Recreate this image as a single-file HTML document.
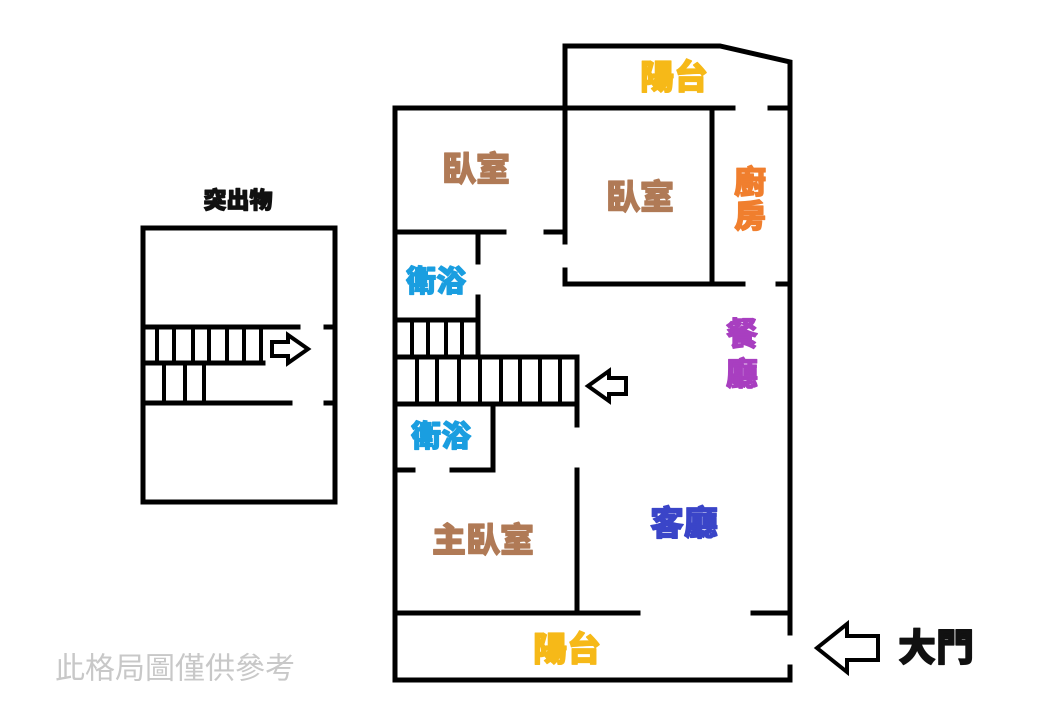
<!DOCTYPE html>
<html><head><meta charset="utf-8"><style>
body{margin:0;background:#fff;width:1056px;height:727px;overflow:hidden}
svg{display:block}
text{font-family:"Liberation Sans","Noto Sans CJK TC",sans-serif;font-weight:900;text-anchor:middle;dominant-baseline:central}
</style></head><body>
<svg width="1056" height="727" viewBox="0 0 1056 727" xmlns="http://www.w3.org/2000/svg">
<g stroke="#000" stroke-width="5" fill="none" stroke-linecap="square">
<rect x="143" y="228" width="192" height="274"/>
<line x1="143" y1="327" x2="298" y2="327"/>
<line x1="143" y1="363" x2="263" y2="363"/>
<line x1="143" y1="403" x2="290" y2="403"/>
<line x1="326" y1="327" x2="335" y2="327"/>
<line x1="326" y1="403" x2="335" y2="403"/>
<g stroke-width="4">
<line x1="157" y1="327" x2="157" y2="363"/><line x1="174" y1="327" x2="174" y2="363"/><line x1="193" y1="327" x2="193" y2="363"/><line x1="209" y1="327" x2="209" y2="363"/><line x1="227" y1="327" x2="227" y2="363"/><line x1="244" y1="327" x2="244" y2="363"/><line x1="261" y1="327" x2="261" y2="363"/>
<line x1="164" y1="363" x2="164" y2="403"/><line x1="185" y1="363" x2="185" y2="403"/><line x1="204" y1="363" x2="204" y2="403"/>
</g>
<polyline points="565,108 565,46 720,46 790,62 790,633"/>
<line x1="790" y1="667" x2="790" y2="680"/>
<polyline points="395,680 395,108 733,108"/>
<line x1="770" y1="108" x2="790" y2="108"/>
<line x1="395" y1="680" x2="790" y2="680"/>
<line x1="565" y1="108" x2="565" y2="242"/>
<polyline points="565,270 565,284 743,284"/>
<line x1="778" y1="284" x2="790" y2="284"/>
<line x1="712" y1="108" x2="712" y2="284"/>
<line x1="395" y1="232" x2="504" y2="232"/>
<line x1="546" y1="232" x2="565" y2="232"/>
<line x1="478" y1="232" x2="478" y2="262"/>
<line x1="478" y1="297" x2="478" y2="357"/>
<line x1="395" y1="320" x2="478" y2="320"/>
<line x1="395" y1="357" x2="577" y2="357"/>
<line x1="395" y1="404" x2="577" y2="404"/>
<line x1="577" y1="357" x2="577" y2="425"/>
<line x1="577" y1="470" x2="577" y2="613"/>
<line x1="493" y1="404" x2="493" y2="470"/>
<line x1="395" y1="470" x2="413" y2="470"/>
<line x1="452" y1="470" x2="493" y2="470"/>
<line x1="395" y1="613" x2="638" y2="613"/>
<line x1="753" y1="613" x2="790" y2="613"/>
<g stroke-width="4">
<line x1="412" y1="320" x2="412" y2="357"/><line x1="428" y1="320" x2="428" y2="357"/><line x1="446" y1="320" x2="446" y2="357"/><line x1="462" y1="320" x2="462" y2="357"/>
<line x1="417" y1="357" x2="417" y2="404"/><line x1="437" y1="357" x2="437" y2="404"/><line x1="459" y1="357" x2="459" y2="404"/><line x1="480" y1="357" x2="480" y2="404"/><line x1="501" y1="357" x2="501" y2="404"/><line x1="520" y1="357" x2="520" y2="404"/><line x1="540" y1="357" x2="540" y2="404"/><line x1="560" y1="357" x2="560" y2="404"/>
</g>
</g>
<g stroke="#000" stroke-width="4" fill="#fff" stroke-linejoin="miter">
<polygon points="272,342 288,342 288,335 308,349 288,363 288,356 272,356"/>
<polygon points="626,378 609,378 609,371 588,386 609,401 609,394 626,394"/>
<polygon points="878,636 847,636 847,624 817,648 847,672 847,660 878,660"/>
</g>
<g stroke-width="1.2" stroke-linejoin="round">
<text x="238" y="200" font-size="23" fill="#111" stroke="#111">突出物</text>
<text x="936" y="649" font-size="38" fill="#111" stroke="#111">大門</text>
<text x="674" y="78" font-size="34" fill="#f6b918" stroke="#f6b918">陽台</text>
<text x="567" y="650" font-size="34" fill="#f6b918" stroke="#f6b918">陽台</text>
<text x="476" y="170" font-size="34" fill="#b07a56" stroke="#b07a56">臥室</text>
<text x="640" y="198" font-size="34" fill="#b07a56" stroke="#b07a56">臥室</text>
<text x="483" y="541" font-size="34" fill="#b07a56" stroke="#b07a56">主臥室</text>
<text x="750" y="182" font-size="32" fill="#f07f2e" stroke="#f07f2e">廚</text>
<text x="750" y="216" font-size="32" fill="#f07f2e" stroke="#f07f2e">房</text>
<text x="742" y="334" font-size="32" fill="#a83fc0" stroke="#a83fc0">餐</text>
<text x="742" y="374" font-size="32" fill="#a83fc0" stroke="#a83fc0">廳</text>
<text x="684" y="524" font-size="34" fill="#3a45c8" stroke="#3a45c8">客廳</text>
<text x="436" y="282" font-size="30" fill="#1a9ee0" stroke="#1a9ee0">衛浴</text>
<text x="441" y="437" font-size="30" fill="#1a9ee0" stroke="#1a9ee0">衛浴</text>
</g>
<text x="175" y="669" font-size="30" fill="#c8c8c8" style="font-weight:400">此格局圖僅供參考</text>
</svg>
</body></html>
